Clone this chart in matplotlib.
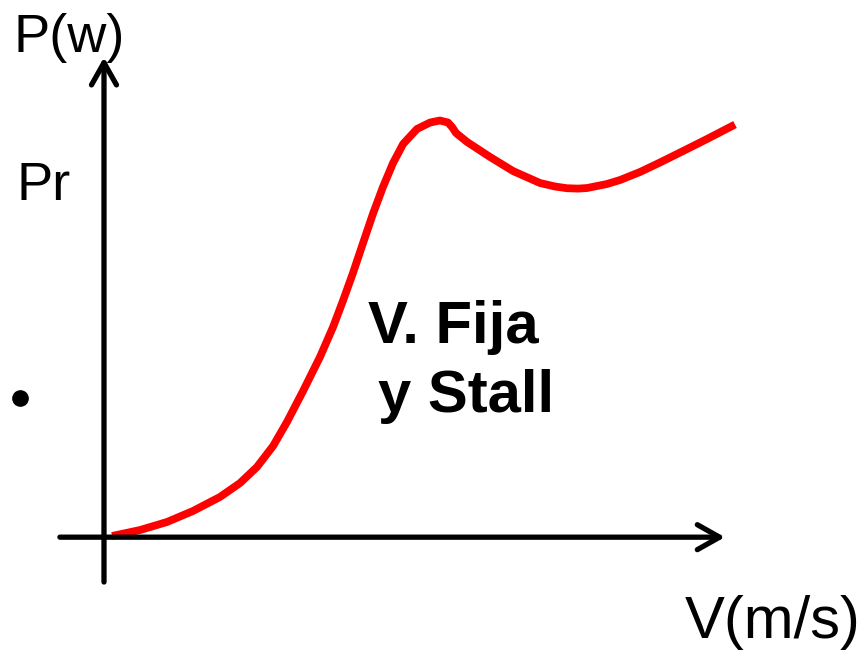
import matplotlib.pyplot as plt

plt.rcParams['font.family'] = ['Liberation Sans', 'DejaVu Sans']

# --- curve data (V in m/s, P in arbitrary units, Pr ~ 100) ---
V = [0.28, 1.39, 2.46, 3.49, 4.56, 5.36, 6.03, 6.67, 7.22, 7.86, 8.53, 9.05,
     9.44, 9.84, 10.24, 10.63, 11.03, 11.43, 11.83, 12.38, 12.90, 13.29,
     13.61, 13.77, 13.93, 14.37, 15.28, 16.19, 17.26, 17.86, 18.33, 18.77,
     19.13, 19.92, 20.44, 21.23, 22.02, 22.82, 23.89, 25.00]
P = [0.48, 1.91, 3.83, 6.46, 9.81, 13.16, 16.99, 22.01, 27.75, 35.17, 43.30, 50.48,
     56.70, 63.40, 70.57, 77.51, 83.97, 89.71, 94.26, 97.85, 99.40, 99.88,
     99.40, 98.33, 96.89, 94.74, 91.15, 87.80, 84.93, 84.09, 83.68, 83.59,
     83.73, 84.69, 85.65, 87.56, 89.83, 92.22, 95.45, 98.92]

X_LABEL = 'V(m/s)'
Y_LABEL = 'P(w)'
RATED_LABEL = 'Pr'
CURVE_LABEL_1 = 'V. Fija'
CURVE_LABEL_2 = 'y Stall'

# --- figure ---
fig = plt.figure(figsize=(8.67, 6.51), dpi=100)
ax = fig.add_axes([0, 0, 1, 1])
ax.set_xlim(-4.1667, 30.238)
ax.set_ylim(-27.03, 128.71)
ax.axis('off')

# axes with open arrow heads
arrow_kw = dict(arrowstyle='->,head_length=0.8,head_width=0.45', lw=3.8,
                color='black', mutation_scale=20, shrinkA=0, shrinkB=0)
ax.annotate('', xy=(24.6, 0.2), xytext=(-1.79, 0.2), arrowprops=arrow_kw)
ax.annotate('', xy=(-0.04, 115.0), xytext=(-0.04, -10.53), arrowprops=arrow_kw)

ax.plot(V, P, color='#ff0000', lw=5.6, solid_capstyle='butt', solid_joinstyle='round')

ax.text(-3.65, 116.27, Y_LABEL, fontsize=39, va='baseline', ha='left')
ax.text(-3.5, 80.86, RATED_LABEL, fontsize=39, va='baseline', ha='left')
ax.text(23.0, -23.92, X_LABEL, fontsize=43, va='baseline', ha='left')
ax.text(10.45, 46.65, CURVE_LABEL_1, fontsize=43, fontweight='bold', va='baseline', ha='left')
ax.text(10.85, 30.14, CURVE_LABEL_2, fontsize=43, fontweight='bold', va='baseline', ha='left')
ax.plot([-3.37], [33.49], 'o', color='black', markersize=11)

fig.savefig('out.png', dpi=100)
